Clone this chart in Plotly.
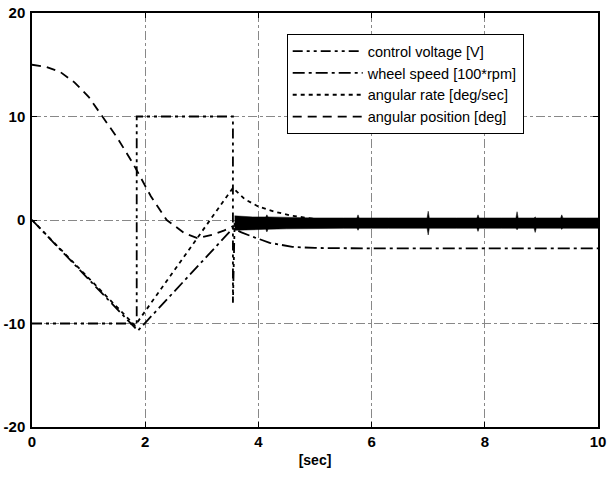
import plotly.graph_objects as go

# ---- data ----
cv_t = [0, 1.85, 1.85, 3.55, 3.55, 3.58]
cv_v = [-10, -10, 10, 10, -8, -0.3]

ws_t = [0, 1.87, 3.55, 3.7, 3.94, 4.2, 4.6, 5.0, 6.0, 7.0, 8.0, 9.0, 10.0]
ws_v = [0, -10.7, -0.8, -1.2, -1.7, -2.2, -2.6, -2.7, -2.75, -2.75, -2.75, -2.75, -2.75]

ar_t = [0, 1.82, 3.55, 3.76, 4.0, 4.29, 4.6, 5.0, 6.0, 8.0, 10.0]
ar_v = [0, -10.2, 3.1, 2.0, 1.3, 0.8, 0.4, 0.1, 0.0, 0.0, 0.0]

ap_t = [0, 0.25, 0.5, 0.75, 1.0, 1.25, 1.5, 1.78, 2.1, 2.38, 2.7, 2.92, 3.2, 3.4, 3.55, 4.0, 6.0, 8.0, 10.0]
ap_v = [15, 14.8, 14.3, 13.3, 11.9, 10.0, 8.0, 5.5, 2.3, 0.0, -1.3, -1.75, -1.4, -1.0, -0.6, -0.3, -0.3, -0.3, -0.3]

# chatter band of control voltage after 3.58 s (upper / lower envelope)
band_t  = [3.58, 3.7, 3.9, 4.13, 4.15, 4.17, 4.5, 5.0, 5.5, 5.74, 5.76, 5.78, 6.3, 6.98, 7.0, 7.02,
           7.5, 7.86, 7.88, 7.9, 8.3, 8.55, 8.57, 8.59, 8.87, 8.89, 8.91, 9.34, 9.36, 9.38, 9.8, 10.0]
band_hi = [0.4, 0.35, 0.3, 0.3, 0.5, 0.3, 0.25, 0.2, 0.2, 0.2, 0.5, 0.2, 0.2, 0.2, 0.85, 0.2,
           0.2, 0.2, 0.5, 0.2, 0.2, 0.2, 0.8, 0.2, 0.2, 0.3, 0.2, 0.2, 0.5, 0.2, 0.2, 0.2]
band_lo = [-1.0, -1.0, -0.95, -0.9, -1.15, -0.9, -0.85, -0.8, -0.8, -0.8, -1.0, -0.8, -0.8, -0.8, -1.45, -0.8,
           -0.8, -0.8, -1.1, -0.8, -0.8, -0.8, -0.95, -0.8, -0.8, -1.2, -0.8, -0.8, -0.9, -0.8, -0.8, -0.8]

x_ticks = [0, 2, 4, 6, 8, 10]
y_ticks = [-20, -10, 0, 10, 20]

fig = go.Figure()

fig.add_trace(go.Scatter(
    x=band_t + band_t[::-1], y=band_hi + band_lo[::-1],
    fill="toself", fillcolor="black", mode="lines",
    line=dict(color="black", width=0.5), showlegend=False, hoverinfo="skip"))

lw = 1.8
fig.add_trace(go.Scatter(x=cv_t, y=cv_v, mode="lines", name="control voltage [V]",
                         line=dict(color="black", width=lw, dash="10px,4px,3px,4px,3px,4px")))
fig.add_trace(go.Scatter(x=ws_t, y=ws_v, mode="lines", name="wheel speed [100*rpm]",
                         line=dict(color="black", width=lw, dash="12px,4px,3px,4px")))
fig.add_trace(go.Scatter(x=ar_t, y=ar_v, mode="lines", name="angular rate [deg/sec]",
                         line=dict(color="black", width=lw, dash="4px,4px")))
fig.add_trace(go.Scatter(x=ap_t, y=ap_v, mode="lines", name="angular position [deg]",
                         line=dict(color="black", width=lw, dash="9px,6px")))

axis_font = dict(family="Liberation Sans", size=15, color="black", weight="bold")

fig.update_xaxes(range=[0, 10], tickvals=x_ticks, ticktext=[str(v) for v in x_ticks],
                 ticks="inside", ticklen=5, tickcolor="black", mirror="ticks",
                 showline=True, linecolor="black", linewidth=1.5,
                 showgrid=True, gridcolor="#888888", gridwidth=0.8, griddash="dashdot",
                 zeroline=False, tickfont=axis_font, automargin=False,
                 title=dict(text="[sec]", font=dict(family="Liberation Sans", size=14, color="black", weight="bold"),
                            standoff=6))
fig.update_yaxes(range=[-20, 20], tickvals=y_ticks, ticktext=[str(v) for v in y_ticks],
                 ticks="inside", ticklen=5, tickcolor="black", mirror="ticks",
                 showline=True, linecolor="black", linewidth=1.5,
                 showgrid=True, gridcolor="#888888", gridwidth=0.8, griddash="dashdot",
                 zeroline=False, tickfont=axis_font, automargin=False, ticklabelstandoff=2)

fig.update_layout(
    width=613, height=496,
    margin=dict(l=32, r=15, t=13, b=69, autoexpand=False),
    paper_bgcolor="white", plot_bgcolor="white",
    font=dict(family="Liberation Sans", color="black"),
    legend=dict(x=0.45, y=0.949, xanchor="left", yanchor="top",
                bgcolor="white", bordercolor="black", borderwidth=1,
                font=dict(family="Liberation Sans", size=14.5, color="black"),
                tracegroupgap=0, itemwidth=70),
)

fig.write_html("out.html", config={"displayModeBar": False},
               post_script="document.body.style.margin='0px';document.body.style.overflow='hidden';")
